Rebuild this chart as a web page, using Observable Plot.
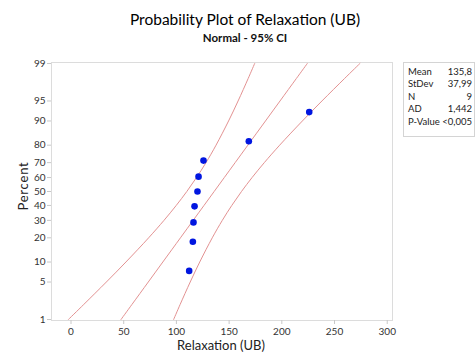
<!DOCTYPE html>
<html>
<head>
<meta charset="utf-8">
<script src="https://cdn.jsdelivr.net/npm/d3@7"></script>
<script src="https://cdn.jsdelivr.net/npm/@observablehq/plot@0.6"></script>
<style>
  html, body { margin: 0; padding: 0; background: #fff; }
  #wrap { position: relative; width: 476px; height: 355px; font-family: Lato, sans-serif; color: #222; }
  #wrap svg { position: absolute; left: 0; top: 0; }
  .title { position: absolute; left: 0; width: 490px; text-align: center; white-space: nowrap; }
  #t1 { top: 10px; font-size: 15.5px; font-weight: 400; color: #000; }
  #t2 { top: 31px; font-size: 11.5px; font-weight: 700; color: #111; }
  #ylab { position: absolute; left: 23px; top: 186px; transform: translate(-50%, -50%) rotate(-90deg); font-size: 13px; white-space: nowrap; letter-spacing: 0.8px; }
  #xlab { position: absolute; left: 221px; top: 337px; transform: translateX(-50%); font-size: 13px; white-space: nowrap; }
  #legend { position: absolute; left: 403px; top: 62px; width: 72px; height: 75px; border: 1px solid #d4d4d4; font-size: 9.5px; box-sizing: border-box; padding: 3px 2px 0 4px; white-space: nowrap; }
  #legend .row { display: flex; justify-content: space-between; height: 12.4px; line-height: 12.4px; }
</style>
</head>
<body>
<div id="wrap">
  <div class="title" id="t1">Probability Plot of Relaxation (UB)</div>
  <div class="title" id="t2">Normal - 95% CI</div>
  <div id="ylab">Percent</div>
  <div id="xlab">Relaxation (UB)</div>
  <div id="legend"></div>
</div>
<script>
// Observed values (sorted) and their plotting percents (median ranks)
const relaxation = [112.1, 115.6, 116.2, 117.2, 120.0, 121.0, 125.7, 168.7, 226.0];
const pointPercent = [7.45, 18.09, 28.72, 39.36, 50, 60.64, 71.28, 81.91, 92.55];

// Fitted line and 95% CI bands, read at these percents
const curvePercent = [1, 2, 5, 10, 20, 30, 40, 50, 60, 70, 80, 90, 95, 98, 99];
const fitValues   = [47.42, 57.78, 73.31, 87.11, 103.83, 115.88, 126.18, 135.80, 145.42, 155.72, 167.77, 184.49, 198.29, 213.82, 224.18];
const lowerValues = [-2.51, 12.05, 33.53, 52.10, 73.65, 88.22, 99.83, 109.86, 119.07, 128.06, 137.59, 149.48, 158.51, 168.09, 174.25];
const upperValues = [97.35, 103.51, 113.09, 122.12, 134.01, 143.54, 152.53, 161.74, 171.77, 183.38, 197.95, 219.50, 238.07, 259.55, 274.11];

const yTicks = [1, 5, 10, 20, 30, 40, 50, 60, 70, 80, 90, 95, 99];
const xTicks = [0, 50, 100, 150, 200, 250, 300];

const legendLabels = ["Mean", "StDev", "N", "AD", "P-Value"];
const legendValues = ["135,8", "37,99", "9", "1,442", "<0,005"];

// inverse normal CDF (probability axis transform)
function probit(p) {
  const a = [-3.969683028665376e+01, 2.209460984245205e+02, -2.759285104469687e+02, 1.383577518672690e+02, -3.066479806614716e+01, 2.506628277459239e+00];
  const b = [-5.447609879822406e+01, 1.615858368580409e+02, -1.556989798598866e+02, 6.680131188771972e+01, -1.328068155288572e+01];
  const c = [-7.784894002430293e-03, -3.223964580411365e-01, -2.400758277161838e+00, -2.549732539343734e+00, 4.374664141464968e+00, 2.938163982698783e+00];
  const d = [7.784695709041462e-03, 3.224671290700398e-01, 2.445134137142996e+00, 3.754408661907416e+00];
  const pl = 0.02425, ph = 1 - pl;
  let q, r;
  if (p < pl) { q = Math.sqrt(-2 * Math.log(p)); return (((((c[0]*q+c[1])*q+c[2])*q+c[3])*q+c[4])*q+c[5]) / ((((d[0]*q+d[1])*q+d[2])*q+d[3])*q+1); }
  if (p <= ph) { q = p - 0.5; r = q*q; return (((((a[0]*r+a[1])*r+a[2])*r+a[3])*r+a[4])*r+a[5])*q / (((((b[0]*r+b[1])*r+b[2])*r+b[3])*r+b[4])*r+1); }
  q = Math.sqrt(-2 * Math.log(1 - p)); return -(((((c[0]*q+c[1])*q+c[2])*q+c[3])*q+c[4])*q+c[5]) / ((((d[0]*q+d[1])*q+d[2])*q+d[3])*q+1);
}
const z = p => probit(p / 100);

const points = relaxation.map((v, i) => ({x: v, y: z(pointPercent[i])}));
const curves = [];
curvePercent.forEach((p, i) => {
  curves.push({band: "fit", x: fitValues[i], y: z(p)});
  curves.push({band: "lower", x: lowerValues[i], y: z(p)});
  curves.push({band: "upper", x: upperValues[i], y: z(p)});
});
const tickZ = yTicks.map(z);
const tickLabel = new Map(yTicks.map(t => [z(t), String(t)]));

const chart = Plot.plot({
  width: 476,
  height: 355,
  marginLeft: 51,
  marginRight: 84,
  marginTop: 62,
  marginBottom: 35,
  style: {fontFamily: "Lato, sans-serif", fontSize: "10px", color: "#333", background: "transparent"},
  x: {domain: [-18.5, 305], label: null},
  y: {domain: [-2.344, 2.344], label: null},
  marks: [
    Plot.frame({stroke: "#dcdcdc"}),
    Plot.axisX(xTicks, {tickSize: 4, stroke: "#c8c8c8", fill: "#333", tickPadding: 3, label: null}),
    Plot.axisY(tickZ, {tickSize: 4, stroke: "#c8c8c8", fill: "#333", tickPadding: 2, tickFormat: d => tickLabel.get(d), label: null}),
    Plot.line(curves, {x: "x", y: "y", z: "band", stroke: "#e39292", strokeWidth: 1, curve: "catmull-rom", clip: true}),
    Plot.dot(points, {x: "x", y: "y", r: 3.3, fill: "#0016e0", stroke: "none"})
  ]
});
document.getElementById("wrap").prepend(chart);

const leg = document.getElementById("legend");
legendLabels.forEach((l, i) => {
  const row = document.createElement("div");
  row.className = "row";
  row.innerHTML = `<span>${l}</span><span>${legendValues[i]}</span>`;
  leg.appendChild(row);
});
</script>
</body>
</html>
